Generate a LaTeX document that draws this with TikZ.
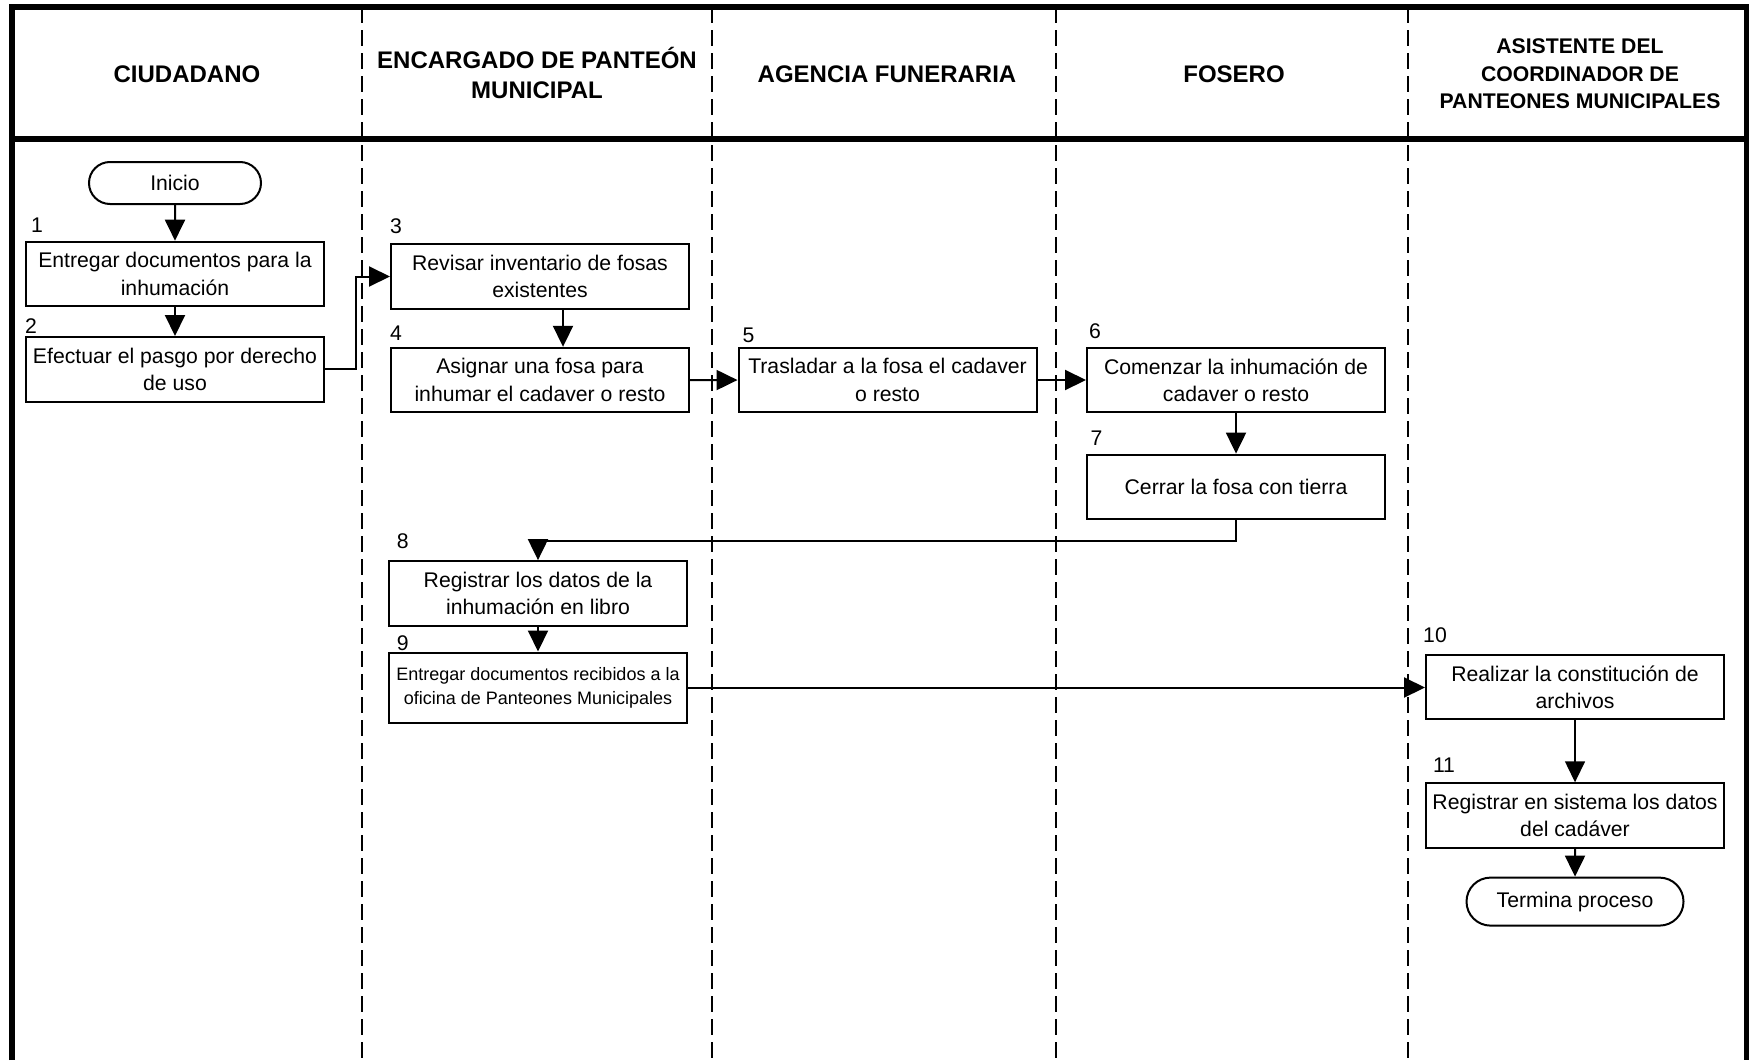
\documentclass[tikz,border=0pt]{standalone}
\usepackage{fontspec}
\setmainfont{Liberation Sans}
\tikzset{
     arrow/.style={-{Triangle[length=10.5pt,width=10pt]},line width=1pt}
     }
\usetikzlibrary{positioning,arrows.meta}
\usetikzlibrary{shapes.misc}
\tikzset{
     procbox/.style={draw,line width=1pt,minimum width=149pt,minimum height=32.3pt,inner sep=0pt,align=center,font=\fontsize{10.6}{13.7}\selectfont},
     termbox/.style={draw,rounded rectangle,line width=1pt,inner sep=0pt,font=\fontsize{10.6}{13.7}\selectfont},
     stepnum/.style={inner sep=0pt,font=\fontsize{10.6}{13.7}\selectfont},
     lanetitle/.style={align=center,font=\bfseries\fontsize{12}{15}\selectfont},
     lanesep/.style={line width=0.8pt,dash pattern=on 8pt off 3.5pt},
     frame/.style={line width=2.6pt}
     }

\begin{document}
\begin{tikzpicture}[x=0.5pt,y=-0.5pt]
            \useasboundingbox (0,0) rectangle (1749,1060);
            % Frame and lanes
            \draw[frame] (12,1060) -- (12,7) -- (1747,7) -- (1747,1060);
            \draw[frame] (12,139) -- (1747,139);
            \foreach \x in {362,712,1056,1408} \draw[lanesep] (\x,7) -- (\x,1060);
            \node[lanetitle] (ciudadano) at (187,74) {CIUDADANO};
            \node[lanetitle] (encargado) at (537,73) {ENCARGADO DE PANTEÓN\\MUNICIPAL};
            \node[lanetitle] (agencia) at (887,74) {AGENCIA FUNERARIA};
            \node[lanetitle] (fosero) at (1234,74) {FOSERO};
            \node[lanetitle,font=\bfseries\fontsize{10.6}{13.8}\selectfont] (asistente) at (1580,74) {ASISTENTE DEL\\COORDINADOR DE\\PANTEONES MUNICIPALES};
            % Place nodes
            \node[termbox,minimum width=86pt,minimum height=21pt] (inicio) at (175,183) {Inicio};
            \node[procbox] [below=17.85pt of inicio] (entregar) {Entregar documentos para la\\inhumación};
            \node[procbox] [below=14.35pt of entregar] (efectuar) {Efectuar el pasgo por derecho\\de uso};
            \node[procbox] (revisar) at (540,276.5) {Revisar inventario de fosas\\existentes};
            \node[procbox] [below=18.5pt of revisar] (asignar) {Asignar una fosa para\\inhumar el cadaver o resto};
            \node[procbox] (trasladar) at (887.5,380) {Trasladar a la fosa el cadaver\\o resto};
            \node[procbox] (comenzar) at (1236,380) {Comenzar la inhumación de\\cadaver o resto};
            \node[procbox] [below=20.15pt of comenzar] (cerrar) {Cerrar la fosa con tierra};
            \node[procbox] (registrar) at (538,593.4) {Registrar los datos de la\\inhumación en libro};
            \node[procbox,minimum height=35pt,font=\fontsize{9}{12}\selectfont] [below=12.4pt of registrar] (enviar) {Entregar documentos recibidos a la\\oficina de Panteones Municipales};
            \node[procbox] (constituir) at (1575,687) {Realizar la constitución de\\archivos};
            \node[procbox] [below=31pt of constituir] (capturar) {Registrar en sistema los datos\\del cadáver};
            \node[termbox,minimum width=108.5pt,minimum height=24pt] [below=13.85pt of capturar] (termina) {Termina proceso};
            % Step numbers
            \node[stepnum] (n1) at (37,225) {1};
            \node[stepnum] (n2) at (31,326) {2};
            \node[stepnum] (n3) at (396,226.5) {3};
            \node[stepnum] (n4) at (396,333.5) {4};
            \node[stepnum] (n5) at (748.5,335) {5};
            \node[stepnum] (n6) at (1095,331) {6};
            \node[stepnum] (n7) at (1096.5,438.5) {7};
            \node[stepnum] (n8) at (402.7,541) {8};
            \node[stepnum] (n9) at (402.7,643.6) {9};
            \node[stepnum] (n10) at (1435,635) {10};
            \node[stepnum] (n11) at (1444,765) {11};
            % Draw edges
            \path[arrow] (inicio) edge (entregar);
            \path[arrow] (entregar) edge (efectuar);
            \draw[arrow] (efectuar.east) -- ++(31,0) |- (revisar.west);
            \draw[arrow] ([xshift=11.5pt]revisar.south) -- ([xshift=11.5pt]asignar.north);
            \path[arrow] (asignar) edge (trasladar);
            \path[arrow] (trasladar) edge (comenzar);
            \path[arrow] (comenzar) edge (cerrar);
            \draw[arrow] (cerrar.south) -- ++(0,21) -| (registrar.north);
            \path[arrow] (registrar) edge (enviar);
            \draw[arrow] (enviar.east) -- (enviar.east -| constituir.west);
            \path[arrow,line width=0.7pt] (constituir) edge (capturar);
            \path[arrow] (capturar) edge (termina);
        \end{tikzpicture}
\end{document}
